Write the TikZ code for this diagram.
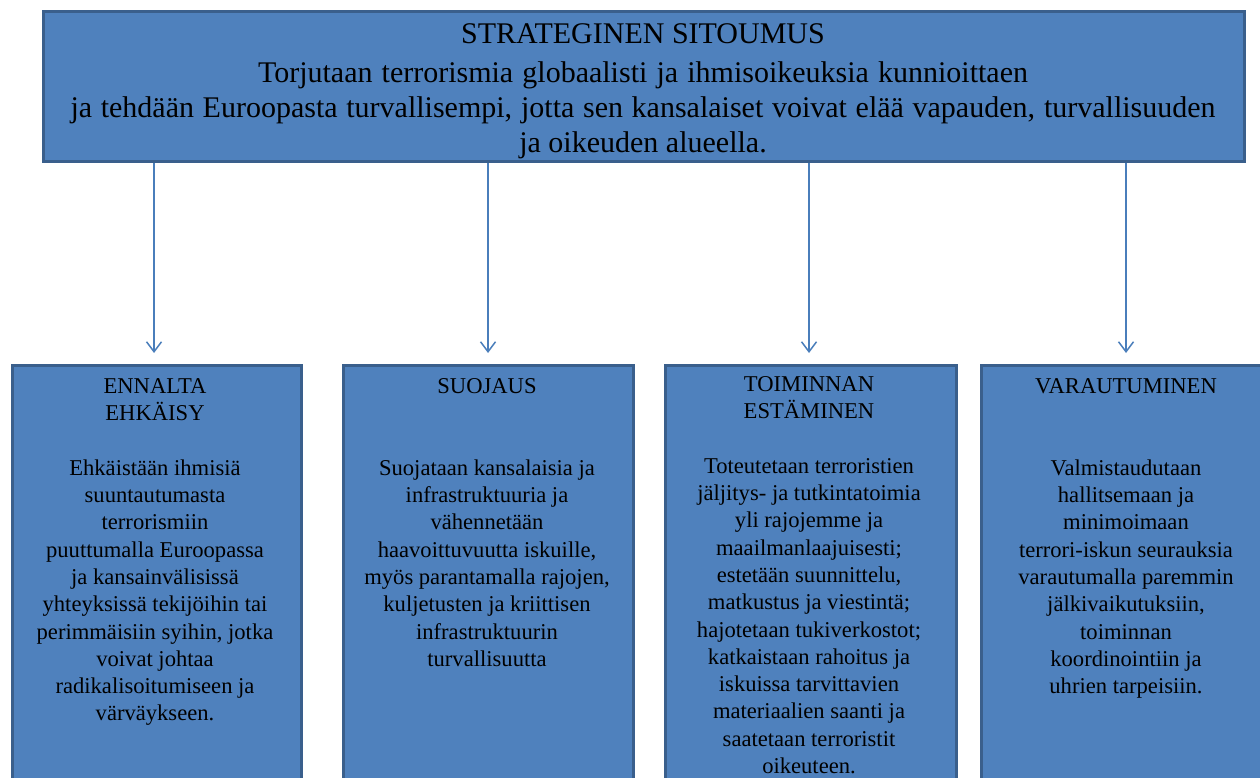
\documentclass[tikz,border=0pt]{standalone}
\usepackage{fontspec}
\setmainfont{Liberation Serif}
\usetikzlibrary{arrows.meta}
\definecolor{boxfill}{HTML}{4F81BD}
\definecolor{boxline}{HTML}{3A5F8C}
\definecolor{arrowc}{HTML}{4A7EBB}
% first line of a text block gets a fixed height so that its top sits 20pt above its baseline
\newcommand{\firstline}{\rule{0pt}{20pt}}
\tikzset{
  panel/.style={draw=boxline, fill=boxfill, line width=3pt, inner sep=0pt, anchor=north west},
  lowpanel/.style={panel, minimum height=436pt},
  link/.style={draw=arrowc, line width=1.5pt, shorten >=11pt,
    -{Straight Barb[length=10pt,width=15pt]}},
  headtxt/.style={font=\fontsize{30}{37}\selectfont, anchor=base, inner sep=0pt},
  boxtxt/.style={font=\fontsize{22.6}{27.3}\selectfont, align=center, anchor=north, inner sep=0pt},
}
\begin{document}
\begin{tikzpicture}[x=1pt, y=-1pt]
  \useasboundingbox (0,0) rectangle (1260,778);
  \clip (0,0) rectangle (1260,778);

  % commitment box
  \node[panel, minimum width=1201pt, minimum height=150pt] (top) at (42,10) {};
  \node[headtxt] (t1) at (643,44) {STRATEGINEN SITOUMUS};
  \node[headtxt] (t2) at (643,83) {\makebox[770pt][s]{Torjutaan terrorismia globaalisti ja ihmisoikeuksia kunnioittaen}};
  \node[headtxt] (t3) at (643,118) {\makebox[1145pt][s]{ja tehdään Euroopasta turvallisempi, jotta sen kansalaiset voivat elää vapauden, turvallisuuden}};
  \node[headtxt] (t4) at (643,153) {ja oikeuden alueella.};

  % the four strands
  \node[lowpanel, minimum width=289pt] (b1) at (11,364) {};
  \node[lowpanel, minimum width=290pt] (b2) at (342,364) {};
  \node[lowpanel, minimum width=291pt] (b3) at (664,364) {};
  \node[lowpanel, minimum width=295pt] (b4) at (980,364) {};

  \draw[link] (top.south -| 154,0) coordinate (a1) -- (a1 |- b1.north);
  \draw[link] (top.south -| 488,0) coordinate (a2) -- (a2 |- b2.north);
  \draw[link] (top.south -| 809,0) coordinate (a3) -- (a3 |- b3.north);
  \draw[link] (top.south -| 1126,0) coordinate (a4) -- (a4 |- b4.north);

  \node[boxtxt] (h1) at (155,373) {\firstline ENNALTA\\EHKÄISY};
  \node[boxtxt] (h2) at (487,373) {\firstline SUOJAUS};
  \node[boxtxt] (h3) at (809,371) {\firstline TOIMINNAN\\ESTÄMINEN};
  \node[boxtxt] (h4) at (1126,373) {\firstline VARAUTUMINEN};

  \node[boxtxt] (p1) at (155,455) {\firstline Ehkäistään ihmisiä\\suuntautumasta\\terrorismiin\\puuttumalla Euroopassa\\ja kansainvälisissä\\yhteyksissä tekijöihin tai\\perimmäisiin syihin, jotka\\voivat johtaa\\radikalisoitumiseen ja\\värväykseen.};
  \node[boxtxt] (p2) at (487,455) {\firstline Suojataan kansalaisia ja\\infrastruktuuria ja\\vähennetään\\haavoittuvuutta iskuille,\\myös parantamalla rajojen,\\kuljetusten ja kriittisen\\infrastruktuurin\\turvallisuutta};
  \node[boxtxt] (p3) at (809,453) {\firstline Toteutetaan terroristien\\jäljitys- ja tutkintatoimia\\yli rajojemme ja\\maailmanlaajuisesti;\\estetään suunnittelu,\\matkustus ja viestintä;\\hajotetaan tukiverkostot;\\katkaistaan rahoitus ja\\iskuissa tarvittavien\\materiaalien saanti ja\\saatetaan terroristit\\oikeuteen.};
  \node[boxtxt] (p4) at (1126,455) {\firstline Valmistaudutaan\\hallitsemaan ja\\minimoimaan\\terrori-iskun seurauksia\\varautumalla paremmin\\jälkivaikutuksiin,\\toiminnan\\koordinointiin ja\\uhrien tarpeisiin.};
\end{tikzpicture}
\end{document}
